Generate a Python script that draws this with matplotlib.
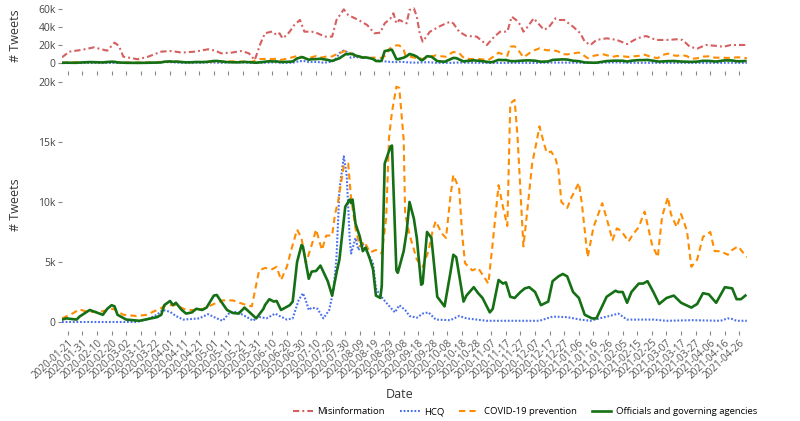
import numpy as np
import matplotlib
matplotlib.use("Agg")
import matplotlib.pyplot as plt
from matplotlib.ticker import FuncFormatter

plt.rcParams['font.family'] = ['Open Sans', 'DejaVu Sans']
plt.rcParams['lines.scale_dashes'] = False

# Etiquetas del eje x (cada 10 días)
tick_labels = [
    "2020-01-21", "2020-01-31", "2020-02-10", "2020-02-20", "2020-03-02", "2020-03-12",
    "2020-03-22", "2020-04-01", "2020-04-11", "2020-04-21", "2020-05-01", "2020-05-11",
    "2020-05-21", "2020-05-31", "2020-06-10", "2020-06-20", "2020-06-30", "2020-07-10",
    "2020-07-20", "2020-07-30", "2020-08-09", "2020-08-19", "2020-08-29", "2020-09-08",
    "2020-09-18", "2020-09-28", "2020-10-08", "2020-10-18", "2020-10-28", "2020-11-07",
    "2020-11-17", "2020-11-27", "2020-12-07", "2020-12-17", "2020-12-27", "2021-01-06",
    "2021-01-16", "2021-01-26", "2021-02-05", "2021-02-15", "2021-02-25", "2021-03-07",
    "2021-03-17", "2021-03-27", "2021-04-06", "2021-04-16", "2021-04-26",
]

# Misinformation (miles de tweets), día desde 2020-01-21
mis_days = [-4, 1, 9, 18, 23, 27, 32, 35, 38, 48, 55, 64, 71, 78, 87, 96, 101, 105, 112, 119,
            124, 128, 132, 135, 140, 143, 145, 147, 150, 152, 155, 159, 162, 167, 171, 176, 181,
            184, 189, 192, 199, 205, 210, 214, 217, 221, 223, 225, 227, 232, 234, 237, 239, 241,
            243, 248, 255, 259, 262, 264, 268, 273, 280, 287, 291, 296, 301, 304, 307, 310, 312,
            315, 319, 321, 326, 329, 334, 337, 340, 343, 346, 351, 354, 358, 362, 369, 376, 383,
            390, 396, 403, 410, 417, 421, 426, 431, 437, 444, 449, 454, 458, 465]
mis_vals = [6.3, 12.6, 14.4, 17.4, 15.2, 13.7, 22.6, 19, 7, 4.1, 7, 12.6, 13.3, 11.5, 12.6, 15.2,
            13.7, 10.7, 11.5, 13.3, 10.7, 3.3, 21.9, 33, 35, 31, 33, 27.4, 31, 35, 42, 47.8, 34.8,
            34.8, 33, 29.3, 29.3, 47.8, 59.6, 53.3, 47.8, 42.2, 33, 33.7, 44, 49.6, 55.2, 44, 47.8,
            44, 58.9, 60.7, 51.5, 33, 23.7, 34.8, 41, 44, 45.9, 44, 34.8, 30, 29.3, 20, 27.4, 34.8,
            34.8, 51.5, 47.8, 42.2, 34.8, 40.4, 49.6, 46, 37, 39, 49.6, 47.8, 47.8, 44, 40.4, 33,
            23.7, 20, 25.6, 27.4, 25.6, 21, 27.4, 30, 25.6, 25.6, 26.3, 25.6, 18, 16, 20, 19, 18,
            20, 20, 20]

# HCQ
hcq_days = [-4, 47, 54, 61, 65, 70, 74, 79, 90, 96, 102, 106, 111, 116, 122, 127, 130, 136, 142,
            145, 150, 154, 158, 161, 163, 165, 167, 171, 175, 179, 182, 184, 186, 189, 191, 193,
            194, 197, 199, 202, 206, 209, 211, 213, 216, 221, 224, 227, 231, 234, 239, 243, 247,
            252, 262, 268, 273, 287, 323, 332, 342, 351, 358, 364, 371, 377, 383, 401, 410, 428,
            447, 452, 455, 458, 465]
hcq_vals = [0, 0, 0.2, 0.6, 1.0, 0.85, 0.5, 0.2, 0.3, 0.65, 0.3, 0.1, 0.8, 0.85, 0.45, 0.1, 0.45,
            0.3, 0.7, 0.5, 0.2, 0.3, 1.8, 2.4, 1.8, 1.0, 1.2, 1.1, 0.3, 1.0, 2.7, 5.4, 11.0, 13.8,
            12.2, 7.0, 5.7, 7.0, 6.0, 6.5, 5.6, 4.9, 2.8, 2.4, 1.9, 1.2, 0.8, 1.4, 1.0, 0.5, 0.35,
            0.7, 0.8, 0.2, 0.15, 0.5, 0.3, 0.1, 0.1, 0.45, 0.4, 0.2, 0.1, 0.3, 0.5, 0.7, 0.2, 0.2,
            0.1, 0.15, 0.1, 0.3, 0.25, 0.1, 0.1]

# COVID-19 prevention
cov_days = [-4, 3, 8, 13, 22, 31, 38, 47, 54, 61, 68, 74, 81, 88, 93, 100, 106, 113, 120, 126,
            131, 135, 140, 143, 146, 150, 153, 157, 160, 163, 167, 170, 174, 177, 181, 183, 185,
            189, 192, 194, 197, 200, 203, 207, 211, 215, 218, 220, 222, 225, 227, 230, 231, 234,
            239, 243, 247, 250, 252, 256, 259, 262, 264, 268, 270, 272, 277, 281, 288, 291, 295,
            298, 301, 303, 306, 308, 312, 314, 318, 321, 323, 326, 328, 331, 334, 336, 338, 342,
            345, 350, 352, 356, 360, 366, 370, 373, 376, 379, 384, 387, 391, 395, 400, 404, 407,
            411, 413, 417, 420, 424, 427, 431, 435, 440, 443, 447, 452, 455, 459, 461, 465]
cov_vals = [0.3, 0.7, 1.05, 0.85, 0.85, 1.1, 0.6, 0.5, 0.6, 1.0, 1.4, 1.4, 1.0, 1.0, 1.1, 1.5,
            1.8, 1.8, 1.5, 1.3, 4.3, 4.5, 4.4, 4.6, 3.5, 4.6, 6.0, 7.7, 7.0, 4.9, 6.4, 7.7, 6.0,
            7.2, 7.2, 9.0, 10.0, 13.0, 13.2, 10.3, 7.8, 6.3, 6.7, 5.8, 6.0, 5.7, 8.6, 15.4, 17.5,
            19.6, 19.5, 15.2, 9.0, 7.3, 5.2, 4.6, 5.9, 7.7, 8.4, 7.4, 7.0, 10.4, 12.25, 11.1, 7.4,
            4.9, 4.3, 4.5, 3.2, 6.6, 11.4, 9.6, 8.0, 18.2, 18.5, 15.4, 6.3, 8.5, 13.2, 15.0, 16.3,
            14.9, 14.1, 14.2, 13.6, 12.7, 10.0, 9.5, 10.4, 11.6, 9.9, 5.4, 7.9, 9.9, 8.2, 6.8, 7.8,
            7.6, 6.7, 7.3, 7.9, 9.2, 6.5, 5.4, 8.8, 10.4, 9.0, 7.9, 9.0, 7.6, 4.6, 5.2, 7.1, 7.5,
            5.9, 5.9, 5.6, 6.0, 6.3, 6.0, 5.4]

# Officials and governing agencies
off_days = [-4, -1, 6, 8, 15, 24, 27, 30, 32, 34, 40, 49, 61, 64, 66, 70, 72, 74, 78, 81, 85, 88,
            92, 95, 100, 102, 105, 109, 113, 117, 121, 125, 129, 134, 135, 138, 141, 143, 146, 152,
            154, 157, 160, 161, 165, 167, 170, 173, 178, 181, 184, 186, 190, 193, 194, 195, 197,
            200, 202, 204, 207, 209, 211, 214, 215, 217, 221, 222, 225, 226, 230, 232, 234, 237,
            239, 242, 243, 246, 249, 253, 258, 262, 264, 266, 271, 273, 278, 281, 284, 289, 291,
            295, 298, 300, 303, 306, 310, 313, 316, 320, 324, 329, 332, 336, 339, 342, 346, 350,
            354, 359, 362, 369, 375, 377, 380, 383, 386, 391, 394, 397, 401, 405, 410, 415, 420,
            427, 431, 435, 439, 444, 450, 455, 458, 461, 464]
off_vals = [0.2, 0.3, 0.2, 0.45, 1.0, 0.6, 1.1, 1.4, 1.3, 0.6, 0.2, 0.1, 0.4, 0.6, 1.4, 1.75, 1.4,
            1.6, 1.0, 0.7, 0.8, 1.1, 1.0, 1.2, 2.2, 2.25, 1.7, 1.0, 0.75, 0.7, 1.2, 0.75, 0.3, 1.1,
            1.4, 1.9, 1.7, 1.75, 1.0, 1.4, 1.7, 5.0, 6.4, 6.3, 3.6, 4.2, 4.25, 4.7, 3.4, 2.2, 4.1,
            5.2, 9.6, 10.2, 9.9, 10.2, 8.2, 7.1, 5.9, 6.2, 5.2, 4.4, 2.2, 2.0, 3.0, 13.2, 14.6,
            14.7, 4.3, 4.1, 5.9, 7.5, 10.0, 8.6, 7.0, 3.1, 3.2, 7.5, 7.0, 2.1, 1.3, 4.1, 5.6, 5.4,
            1.7, 2.2, 2.9, 2.4, 2.0, 0.8, 1.1, 3.5, 3.2, 3.3, 2.1, 2.0, 2.5, 2.8, 2.9, 2.5, 1.4,
            1.7, 3.4, 3.8, 4.0, 3.8, 2.5, 2.0, 0.6, 0.3, 0.3, 2.1, 2.6, 2.5, 2.5, 1.6, 2.5, 3.2,
            3.2, 3.4, 2.5, 1.5, 2.0, 2.2, 1.6, 1.2, 1.5, 2.4, 2.3, 1.6, 2.9, 2.8, 1.9, 1.9, 2.2]

c_mis = "#d65f5f"
c_hcq = "#4a70ee"
c_cov = "#ff8c00"
c_off = "#157015"

fig = plt.figure(figsize=(8, 4.21), dpi=100)
ax_top = fig.add_axes([0.0775, 0.8314, 0.856, 0.1686])
ax_bot = fig.add_axes([0.0775, 0.2138, 0.856, 0.601])


def draw(ax, with_mis):
    if with_mis:
        ax.plot(mis_days, np.array(mis_vals) * 1000, color=c_mis, lw=1.5,
                dashes=(4.5, 2.2, 1.4, 2.2), label="Misinformation")
    ax.plot(hcq_days, np.array(hcq_vals) * 1000, color=c_hcq, lw=1.5,
            dashes=(1.3, 1.3), label="HCQ")
    ax.plot(cov_days, np.array(cov_vals) * 1000, color=c_cov, lw=1.5,
            dashes=(4.5, 3), label="COVID-19 prevention")
    ax.plot(off_days, np.array(off_vals) * 1000, color=c_off, lw=1.9,
            label="Officials and governing agencies")
    for s in ax.spines.values():
        s.set_visible(False)
    ax.set_xlim(-4, 465)
    ax.set_xticks(range(0, 461, 10))
    ax.tick_params(axis='both', direction='out', length=3, width=0.8, color='#888',
                   labelsize=7.5, labelcolor='#444', pad=1.5)
    ax.yaxis.set_major_formatter(FuncFormatter(lambda v, p: "0" if v == 0 else f"{int(v / 1000)}k"))
    ax.set_ylabel("# Tweets", fontsize=9, color='#333')
    ax.yaxis.set_label_coords(-0.058, 0.5)


draw(ax_top, True)
ax_top.set_ylim(-8900, 70000)
ax_top.set_yticks([0, 20000, 40000, 60000])
ax_top.set_xticklabels([])

draw(ax_bot, False)
ax_bot.set_ylim(-750, 20330)
ax_bot.set_yticks([0, 5000, 10000, 15000, 20000])
ax_bot.set_xticklabels(tick_labels, rotation=43, ha='right', va='top',
                       rotation_mode='anchor', fontsize=7.2, color='#555')

fig.text(0.5, 1 - 395 / 421, "Date", ha='center', va='center', fontsize=9, color='#333')

handles = ax_top.get_lines()
fig.legend(handles, [h.get_label() for h in handles], loc='center', ncol=4,
           bbox_to_anchor=(525 / 800, 1 - 412 / 421), frameon=False, fontsize=6.8,
           handlelength=2.1, handletextpad=0.45, columnspacing=1.6, borderpad=0)

fig.savefig("out.png", dpi=100)
